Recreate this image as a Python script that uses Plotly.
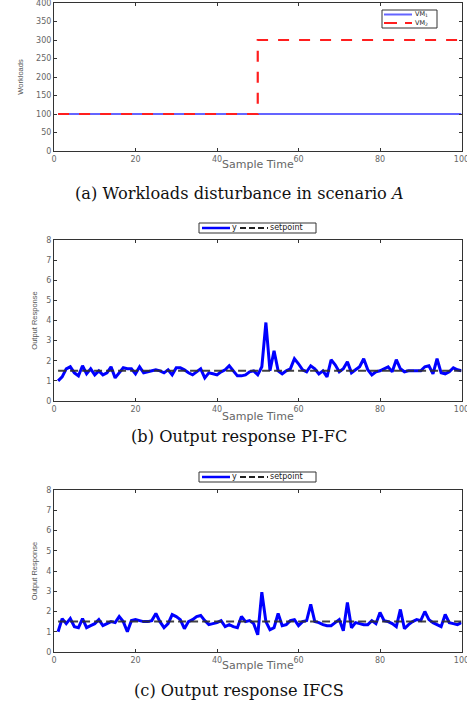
import plotly.graph_objects as go

# ---------------- data ----------------
sample_time = list(range(1, 101))

vm1_workload = [100] * 100
vm2_workload = [100] * 50 + [300] * 50
vm2_time = list(range(1, 51)) + list(range(50, 100))

pifc_y = [1.0, 1.2, 1.6, 1.7, 1.4, 1.25, 1.75, 1.35, 1.6, 1.3,
          1.5, 1.3, 1.4, 1.7, 1.15, 1.4, 1.65, 1.6, 1.6, 1.35,
          1.7, 1.4, 1.45, 1.5, 1.55, 1.5, 1.4, 1.55, 1.3, 1.65,
          1.65, 1.55, 1.4, 1.3, 1.45, 1.6, 1.15, 1.4, 1.35, 1.3,
          1.45, 1.55, 1.75, 1.5, 1.25, 1.25, 1.3, 1.45, 1.5, 1.3,
          1.7, 3.9, 1.5, 2.5, 1.5, 1.35, 1.5, 1.6, 2.1, 1.85,
          1.55, 1.45, 1.75, 1.6, 1.35, 1.5, 1.2, 2.05, 1.8, 1.45,
          1.6, 1.95, 1.4, 1.55, 1.7, 2.1, 1.55, 1.3, 1.45, 1.5,
          1.6, 1.7, 1.45, 2.05, 1.6, 1.45, 1.5, 1.5, 1.5, 1.5,
          1.7, 1.75, 1.35, 2.1, 1.4, 1.35, 1.45, 1.65, 1.55, 1.5]

ifcs_y = [1.0, 1.65, 1.4, 1.65, 1.25, 1.2, 1.65, 1.2, 1.3, 1.4,
          1.6, 1.3, 1.4, 1.5, 1.45, 1.75, 1.5, 1.0, 1.55, 1.6,
          1.55, 1.5, 1.5, 1.55, 1.9, 1.5, 1.2, 1.4, 1.85, 1.75,
          1.6, 1.15, 1.5, 1.6, 1.75, 1.8, 1.55, 1.35, 1.4, 1.45,
          1.55, 1.25, 1.35, 1.25, 1.2, 1.75, 1.5, 1.55, 1.4, 0.85,
          2.95, 1.5, 1.1, 1.2, 1.9, 1.3, 1.35, 1.55, 1.6, 1.3,
          1.5, 1.55, 2.35, 1.5, 1.45, 1.35, 1.3, 1.3, 1.45, 1.6,
          1.05, 2.45, 1.2, 1.45, 1.4, 1.35, 1.35, 1.55, 1.4, 1.95,
          1.55, 1.5, 1.4, 1.25, 2.1, 1.15, 1.35, 1.5, 1.6, 1.55,
          2.0, 1.6, 1.45, 1.35, 1.25, 1.85, 1.45, 1.4, 1.35, 1.45]

setpoint = [1.5] * 100

x_ticks = [0, 20, 40, 60, 80, 100]
y1_ticks = [0, 50, 100, 150, 200, 250, 300, 350, 400]
y23_ticks = [0, 1, 2, 3, 4, 5, 6, 7, 8]

legend1_names = ["VM<sub>1</sub>", "VM<sub>2</sub>"]
legend23_names = ["y", "setpoint"]

x_title = "Sample Time"
captions = ["(a) Workloads disturbance in scenario <i>A</i>",
            "(b) Output response PI-FC",
            "(c) Output response IFCS"]

# ---------------- styles ----------------
W, H = 467, 713
BLUE1 = "rgb(100,100,255)"
RED = "rgb(255,30,30)"
BLUE = "rgb(0,0,255)"
SETC = "rgba(45,45,45,0.9)"
RED_DASH = "11px,10px"
SET_DASH = "8px,4px"

def px_(x):
    return x / W

def py(y):
    return 1 - y / H

fig = go.Figure()

# Plot 1
fig.add_trace(go.Scatter(x=sample_time, y=vm1_workload, mode="lines", name=legend1_names[0],
                         line=dict(color=BLUE1, width=2), xaxis="x", yaxis="y"))
fig.add_trace(go.Scatter(x=vm2_time, y=vm2_workload, mode="lines", name=legend1_names[1],
                         line=dict(color=RED, width=2.2, dash=RED_DASH), xaxis="x", yaxis="y"))
# Plot 2
fig.add_trace(go.Scatter(x=sample_time, y=pifc_y, mode="lines", name=legend23_names[0],
                         line=dict(color=BLUE, width=3), xaxis="x2", yaxis="y2"))
fig.add_trace(go.Scatter(x=sample_time, y=setpoint, mode="lines", name=legend23_names[1],
                         line=dict(color=SETC, width=2, dash=SET_DASH), xaxis="x2", yaxis="y2"))
# Plot 3
fig.add_trace(go.Scatter(x=sample_time, y=ifcs_y, mode="lines", name=legend23_names[0],
                         line=dict(color=BLUE, width=3), xaxis="x3", yaxis="y3"))
fig.add_trace(go.Scatter(x=sample_time, y=setpoint, mode="lines", name=legend23_names[1],
                         line=dict(color=SETC, width=2, dash=SET_DASH), xaxis="x3", yaxis="y3"))

xdom = [px_(54), px_(461.5)]
ydoms = [[py(151), py(3)], [py(401), py(240)], [py(652), py(490)]]

tickfont = dict(family="DejaVu Sans", size=8, color="#666")
xtitlefont = dict(family="DejaVu Sans", size=11, color="#666")
ytitlefont = dict(family="Liberation Sans", size=7.5, color="#555")

axis_common = dict(showline=True, linecolor="#333", linewidth=1, mirror="ticks",
                   ticks="inside", ticklen=3, tickcolor="#333", showgrid=False,
                   zeroline=False, tickfont=tickfont, ticklabeloverflow="allow",
                   automargin=False)

layout = dict(width=W, height=H, margin=dict(l=0, r=0, t=0, b=0, autoexpand=False),
              plot_bgcolor="white", paper_bgcolor="white", showlegend=False)

for i in range(3):
    sx = "" if i == 0 else str(i + 1)
    layout["xaxis" + sx] = dict(axis_common, domain=xdom, anchor="y" + sx, range=[0, 100],
                                tickvals=x_ticks)
    if i == 0:
        layout["yaxis" + sx] = dict(axis_common, domain=ydoms[i], anchor="x" + sx, range=[0, 400],
                                    tickvals=y1_ticks,
                                    title=dict(text="Workloads", font=ytitlefont, standoff=11))
    else:
        layout["yaxis" + sx] = dict(axis_common, domain=ydoms[i], anchor="x" + sx, range=[0, 8],
                                    tickvals=y23_ticks,
                                    title=dict(text="Output Response", font=ytitlefont, standoff=7))

# ---------------- manual legends (boxes, swatches, labels) ----------------
shapes = []
anns = []
legfont = dict(family="DejaVu Sans", size=7, color="#222")

def box(x0, y0, x1, y1):
    shapes.append(dict(type="rect", xref="paper", yref="paper",
                       x0=px_(x0), x1=px_(x1), y0=py(y1), y1=py(y0),
                       line=dict(color="#333", width=1), fillcolor="white", layer="above"))

def swatch(x0, x1, y, color, width, dash="solid"):
    shapes.append(dict(type="line", xref="paper", yref="paper",
                       x0=px_(x0), x1=px_(x1), y0=py(y), y1=py(y),
                       line=dict(color=color, width=width, dash=dash), layer="above"))

def label(text, x, y, size=7):
    anns.append(dict(text=text, x=px_(x), y=py(y), xref="paper", yref="paper",
                     showarrow=False, xanchor="left", yanchor="middle",
                     font=dict(legfont, size=size)))

# legend (a)
box(382, 10, 437, 28)
swatch(384, 412, 14.5, BLUE1, 2)
swatch(384, 412, 23, RED, 2, "13px,8px")
label(legend1_names[0], 413, 14.5, 6.5)
label(legend1_names[1], 413, 23, 6.5)

# legends (b) and (c)
for ytop in (223, 472):
    ymid = ytop + 5
    box(199, ytop, 316, ytop + 10)
    swatch(202, 230, ymid, BLUE, 2.5)
    label(legend23_names[0], 230, ymid - 0.5, 8)
    swatch(240, 268, ymid, "#222", 2, "6px,3px")
    label(legend23_names[1], 268, ymid - 0.5, 8)

# x-axis titles
for yy in (164, 416, 665):
    anns.append(dict(text=x_title, x=px_(257.7), y=py(yy), xref="paper", yref="paper",
                     showarrow=False, xanchor="center", yanchor="middle", font=xtitlefont))

# captions
cap_y = [193, 436, 690]
for txt, yy in zip(captions, cap_y):
    anns.append(dict(text=txt, x=px_(239), y=py(yy), xref="paper", yref="paper",
                     showarrow=False, xanchor="center", yanchor="middle",
                     font=dict(family="DejaVu Serif", size=16.2, color="#111")))

layout["shapes"] = shapes
layout["annotations"] = anns

fig.update_layout(layout)
fig.write_html("out.html", config={"displayModeBar": False},
               post_script="document.body.style.margin='0';")
